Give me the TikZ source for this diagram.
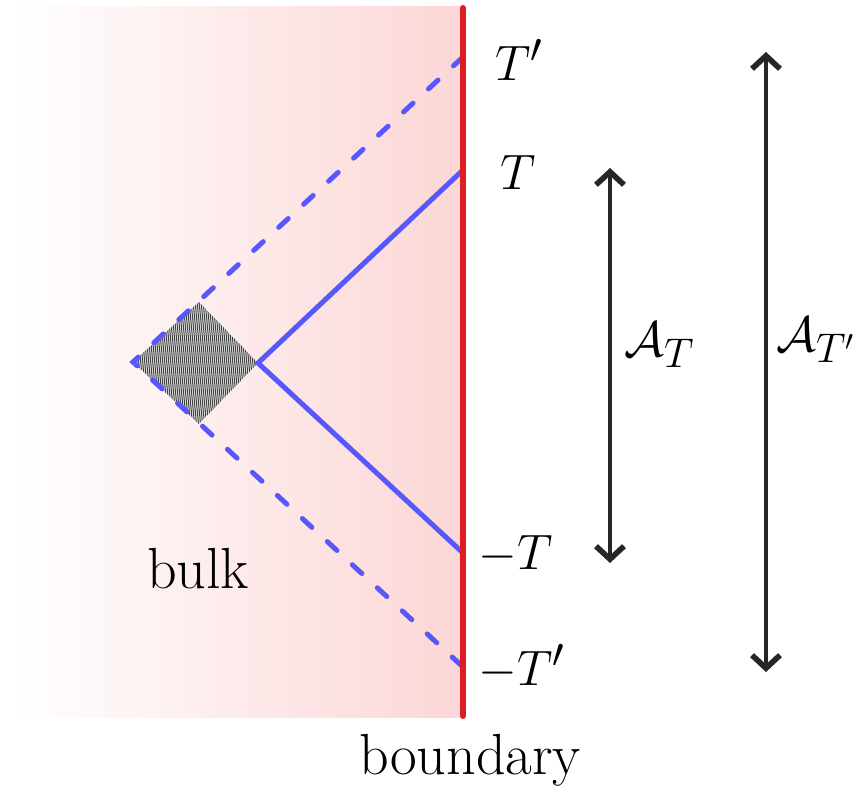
\documentclass[tikz,border=0pt]{standalone}
\usetikzlibrary{arrows.meta}
\definecolor{bred}{RGB}{218,30,35}
\definecolor{bblue}{RGB}{88,88,250}
\definecolor{pinkr}{RGB}{252,214,214}
\tikzset{
  bline/.style={bblue, line width=2.5pt, line cap=round},
  bdash/.style={bline, dash pattern=on 6.5pt off 10.5pt},
  dblarrow/.style={line width=2pt, black!85, {Straight Barb[length=6.5pt,width=14pt,line width=2.8pt]}-{Straight Barb[length=6.5pt,width=14pt,line width=2.8pt]}},
  lab/.style={font=\fontsize{29}{33}\selectfont, inner sep=0pt}
}
\begin{document}
\begin{tikzpicture}[x=0.5pt,y=-0.5pt]
\useasboundingbox (0,0) rectangle (867,786);
% bulk shading
\shade[left color=white, right color=pinkr] (10,7) rectangle (463,717);
% points
\coordinate (Tp) at (463,57);
\coordinate (T) at (463,170);
\coordinate (mT) at (463,553);
\coordinate (mTp) at (463,667);
\coordinate (tip) at (133,362);
\coordinate (apex) at (258,363);
\coordinate (sqtop) at (199,302);
\coordinate (sqbot) at (199,424);
% hatched square
\begin{scope}
\clip (tip) -- (sqtop) -- (apex) -- (sqbot) -- cycle;
\fill[white!85!gray] (120,290) rectangle (270,440);
\foreach \i in {0,...,75} {
  \draw[black!75, line width=0.5pt] (110+2*\i,290) -- (124+2*\i,440);
}
\end{scope}
% light rays
\draw[bdash] (Tp) -- (tip) -- (mTp);
\draw[bline] (T) -- (apex) -- (mT);
% boundary
\draw[bred, line width=3pt, line cap=round] (463,8) -- (463,716);
% labels
\node[lab, anchor=west] (lTp) at (495,60) {$T'$};
\node[lab, anchor=west] (lT) at (500,172) {$T$};
\node[lab, anchor=west] (lmT) at (478,555) {$-T$};
\node[lab, anchor=west] (lmTp) at (478,667) {$-T'$};
\node[lab] (bulk) at (198,569) {bulk};
\node[lab] (boundary) at (470,760) {boundary};
% arrows
\coordinate (a1t) at (610,168);
\coordinate (a1b) at (610,563);
\coordinate (a2t) at (766,52);
\coordinate (a2b) at (766,672);
\draw[dblarrow] (a1t) -- (a1b);
\draw[dblarrow] (a2t) -- (a2b);
\node[lab, anchor=west] (AT) at (624,345) {$\mathcal{A}_T$};
\node[lab, anchor=west] (ATp) at (776,340) {$\mathcal{A}_{T'}$};
\end{tikzpicture}
\end{document}
